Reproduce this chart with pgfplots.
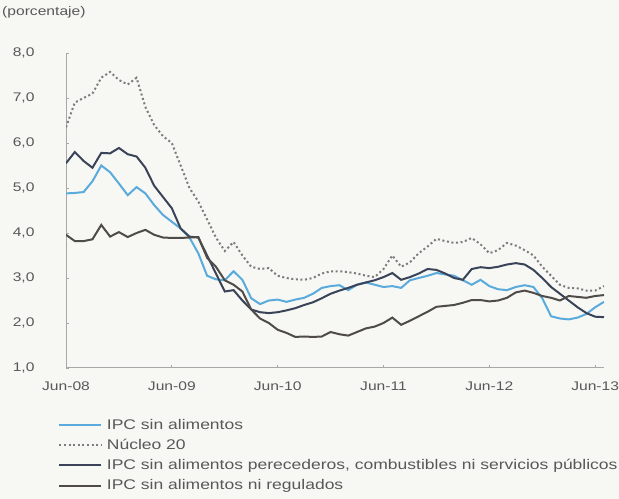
\documentclass[border=0pt]{standalone}
\usepackage{pgfplots}
\usepackage{pgfplotstable}
\pgfplotsset{compat=1.18}
\usepackage{fontspec}
\setmainfont{Liberation Sans}[FakeStretch=1.25]
\definecolor{bgc}{HTML}{F7F8F4}
\definecolor{txt}{HTML}{585858}
\definecolor{axc}{HTML}{A8A8A8}
\definecolor{cblue}{HTML}{5AAADC}
\definecolor{cdot}{HTML}{7C7C7C}
\definecolor{cnavy}{HTML}{3A4358}
\definecolor{cgrey}{HTML}{4E4B49}

\pgfplotstableread{
m sinal nucleo perec noreg
0 4.88 6.35 5.55 3.96
1 4.89 6.90 5.80 3.82
2 4.91 7.00 5.60 3.82
3 5.15 7.10 5.45 3.86
4 5.50 7.45 5.78 4.18
5 5.35 7.58 5.77 3.92
6 5.10 7.40 5.89 4.02
7 4.84 7.30 5.75 3.91
8 5.02 7.45 5.70 4.00
9 4.88 6.80 5.45 4.07
10 4.62 6.40 5.05 3.96
11 4.40 6.15 4.80 3.90
12 4.25 6.00 4.55 3.89
13 4.10 5.50 4.10 3.89
14 3.90 5.00 3.92 3.90
15 3.55 4.70 3.90 3.91
16 3.05 4.30 3.50 3.45
17 2.97 3.90 3.10 3.25
18 2.95 3.60 2.70 2.95
19 3.15 3.80 2.73 2.85
20 2.96 3.50 2.50 2.70
21 2.55 3.25 2.30 2.30
22 2.42 3.20 2.24 2.10
23 2.50 3.22 2.22 2.00
24 2.52 3.05 2.24 1.85
25 2.47 3.00 2.28 1.78
26 2.52 2.97 2.33 1.69
27 2.56 2.96 2.40 1.70
28 2.65 3.00 2.46 1.69
29 2.78 3.10 2.55 1.70
30 2.82 3.15 2.65 1.80
31 2.84 3.15 2.72 1.75
32 2.73 3.13 2.78 1.72
33 2.85 3.10 2.85 1.80
34 2.90 3.05 2.90 1.88
35 2.85 3.02 2.95 1.92
36 2.80 3.20 3.02 2.00
37 2.82 3.50 3.11 2.12
38 2.78 3.25 2.96 1.96
39 2.95 3.35 3.02 2.05
40 3.00 3.55 3.10 2.15
41 3.05 3.70 3.20 2.25
42 3.11 3.87 3.18 2.36
43 3.08 3.82 3.10 2.38
44 3.05 3.78 3.00 2.40
45 2.95 3.80 2.96 2.45
46 2.85 3.89 3.20 2.51
47 2.96 3.75 3.24 2.51
48 2.82 3.55 3.22 2.48
49 2.75 3.62 3.25 2.50
50 2.73 3.78 3.30 2.56
51 2.80 3.72 3.33 2.68
52 2.84 3.62 3.30 2.72
53 2.80 3.50 3.18 2.67
54 2.55 3.25 3.00 2.60
55 2.15 3.05 2.80 2.56
56 2.10 2.85 2.65 2.50
57 2.08 2.78 2.50 2.60
58 2.12 2.77 2.35 2.58
59 2.20 2.72 2.22 2.56
60 2.35 2.72 2.14 2.60
61 2.47 2.82 2.13 2.62
}\datatable

\begin{document}
\begin{tikzpicture}
\fill[bgc] (0,0) rectangle (619bp,499bp);
\node[anchor=west, text=txt, font=\fontsize{12.5bp}{14bp}\selectfont, inner sep=0pt] at (2bp,487bp) {(porcentaje)};
\begin{axis}[
  at={(66bp,131bp)}, anchor=south west,
  scale only axis, width=538bp, height=315bp,
  xmin=0, xmax=61, ymin=1, ymax=8,
  axis x line*=bottom, axis y line*=left,
  axis line style={draw=axc, line width=1bp},
  xtick={0,12,24,36,48,60},
  xticklabels={Jun-08,Jun-09,Jun-10,Jun-11,Jun-12,Jun-13},
  ytick={1,2,3,4,5,6,7,8},
  tick align=inside,
  major tick length=3bp,
  tick style={draw=axc, line width=0.8bp},
  ticklabel style={text=txt, font=\fontsize{12.5bp}{14bp}\selectfont},
  xticklabel style={yshift=-10bp},
  yticklabel style={anchor=east, xshift=-28bp},
  yticklabel={\pgfmathprintnumber[fixed, fixed zerofill, precision=1, use comma, assume math mode=true]{\tick}},
  legend style={at={(-0.02,-0.15)}, anchor=north west, draw=none, fill=none,
     font=\fontsize{14bp}{16bp}\selectfont, text=txt, row sep=5.5bp,
     nodes={inner sep=1.5bp}},
  legend cell align=left,
  legend image code/.code={\draw[#1] (0bp,0bp) -- (42bp,0bp); \path (45bp,0bp);},
]
\addplot[cblue, line width=2bp] table[x=m, y=sinal] {\datatable};
\addlegendentry{IPC sin alimentos}
\addplot[cdot, line width=2bp, dash pattern=on 2bp off 2.6bp] table[x=m, y=nucleo] {\datatable};
\addlegendentry{Núcleo 20}
\addplot[cnavy, line width=2bp] table[x=m, y=perec] {\datatable};
\addlegendentry{IPC sin alimentos perecederos, combustibles ni servicios públicos}
\addplot[cgrey, line width=2bp] table[x=m, y=noreg] {\datatable};
\addlegendentry{IPC sin alimentos ni regulados}
\end{axis}
\pgfresetboundingbox
\path[use as bounding box] (0,0) rectangle (619bp,499bp);
\end{tikzpicture}
\end{document}
